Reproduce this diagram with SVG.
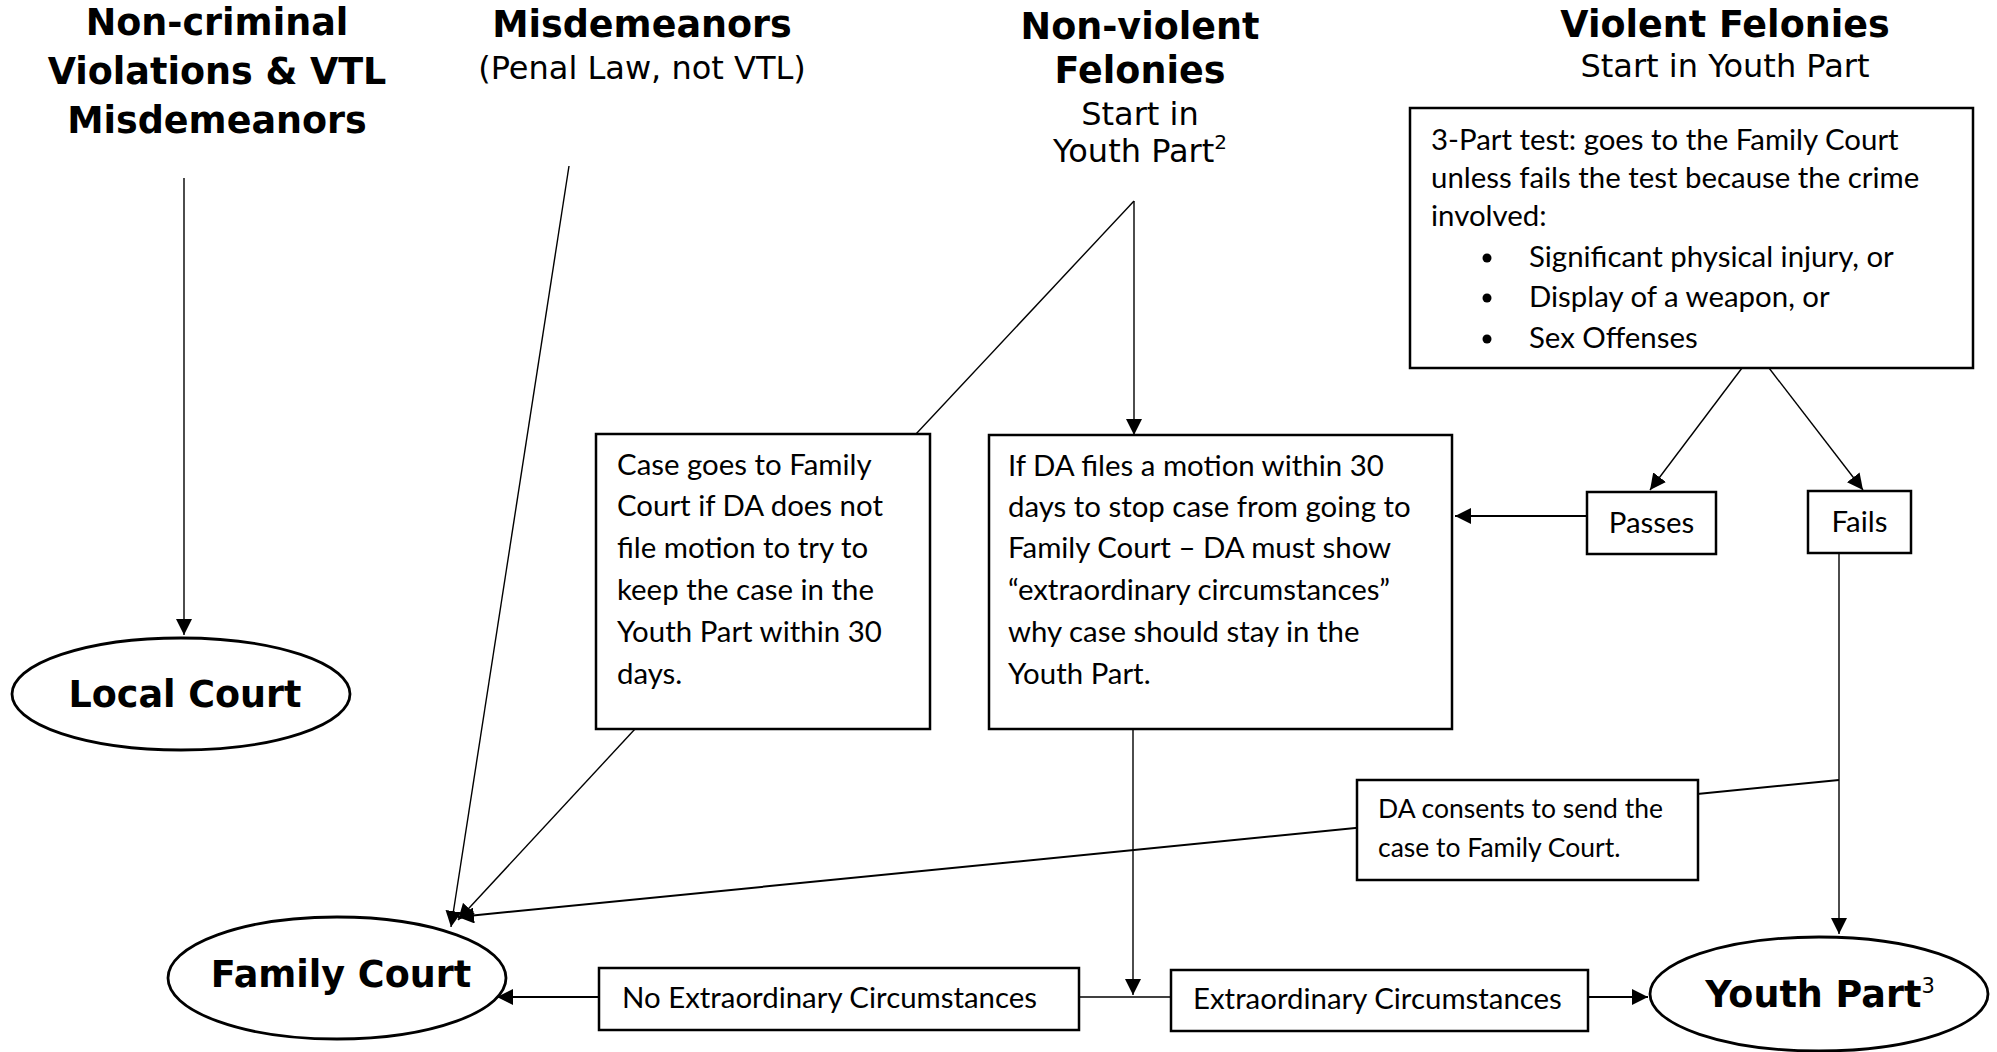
<svg xmlns="http://www.w3.org/2000/svg" width="1997" height="1052" viewBox="0 0 1997 1052">
<defs>
<marker id="ah" markerUnits="userSpaceOnUse" markerWidth="16" markerHeight="16" refX="15" refY="7.5" orient="auto" viewBox="0 0 15 15">
<path d="M0,0 L15,7.5 L0,15 z" fill="#000"/>
</marker>
</defs>
<style>
.t{font-family:"DejaVu Sans",Verdana,sans-serif;font-weight:bold;font-size:36.5px;fill:#000;text-anchor:middle}
.s{font-family:"DejaVu Sans",Verdana,sans-serif;font-size:32px;fill:#000;text-anchor:middle}
.b{font-family:Lato,"Open Sans",sans-serif;font-size:29.4px;fill:#000}
.c{font-family:Lato,"Open Sans",sans-serif;font-size:26.5px;fill:#000}
.box{fill:#fff;stroke:#000;stroke-width:2.5}
.ell{fill:#fff;stroke:#000;stroke-width:2.8}
.ln{fill:none;stroke:#000;stroke-width:1.4}
.la{fill:none;stroke:#000;stroke-width:1.4;marker-end:url(#ah)}
.lb{fill:none;stroke:#000;stroke-width:2;marker-end:url(#ah)}
</style>
<rect width="1997" height="1052" fill="#fff"/>

<g id="connectors">
<line class="la" x1="184" y1="178" x2="184" y2="635"/>
<line class="la" x1="569" y1="166" x2="451" y2="927"/>
<line class="la" x1="1134" y1="201" x2="1134" y2="435"/>
<line class="ln" x1="1134" y1="201" x2="916" y2="434"/>
<line class="la" x1="635" y1="729" x2="458" y2="920"/>
<line class="lb" x1="1839" y1="780" x2="458" y2="917"/>
<line class="lb" x1="1587" y1="516" x2="1455" y2="516"/>
<line class="la" x1="1742" y1="368" x2="1650" y2="490"/>
<line class="la" x1="1769" y1="368" x2="1863" y2="490"/>
<line class="la" x1="1839" y1="553" x2="1839" y2="934"/>
<line class="la" x1="1133" y1="729" x2="1133" y2="995"/>
<line class="ln" x1="1079" y1="997" x2="1171" y2="997"/>
<line class="lb" x1="599" y1="997" x2="497" y2="997"/>
<line class="lb" x1="1588" y1="997" x2="1648" y2="997"/>
</g>

<g id="title-noncriminal">
<text class="t" x="217" y="35">Non-criminal</text>
<text class="t" x="217" y="84">Violations &amp; VTL</text>
<text class="t" x="217" y="133">Misdemeanors</text>
</g>

<g id="title-misdemeanors">
<text class="t" x="642" y="37">Misdemeanors</text>
<text class="s" x="642" y="79">(Penal Law, not VTL)</text>
</g>

<g id="title-nonviolent">
<text class="t" x="1140" y="39">Non-violent</text>
<text class="t" x="1140" y="83">Felonies</text>
<text class="s" x="1140" y="125">Start in</text>
<text class="s" x="1140" y="162">Youth Part<tspan font-size="20" dy="-13">2</tspan></text>
</g>

<g id="title-violent">
<text class="t" x="1725" y="37">Violent Felonies</text>
<text class="s" x="1725" y="77">Start in Youth Part</text>
</g>

<g id="three-part-test">
<rect class="box" x="1410" y="108" width="563" height="260"/>
<text class="b" x="1431" y="150">3-Part test: goes to the Family Court</text>
<text class="b" x="1431" y="188">unless fails the test because the crime</text>
<text class="b" x="1431" y="226">involved:</text>
<circle cx="1487" cy="258" r="4.5"/>
<text class="b" x="1529" y="267">Significant physical injury, or</text>
<circle cx="1487" cy="298" r="4.5"/>
<text class="b" x="1529" y="307">Display of a weapon, or</text>
<circle cx="1487" cy="339" r="4.5"/>
<text class="b" x="1529" y="348">Sex Offenses</text>
</g>

<g id="case-goes">
<rect class="box" x="596" y="434" width="334" height="295"/>
<text class="b" x="617" y="475">Case goes to Family</text>
<text class="b" x="617" y="516">Court if DA does not</text>
<text class="b" x="617" y="558">file motion to try to</text>
<text class="b" x="617" y="600">keep the case in the</text>
<text class="b" x="617" y="642">Youth Part within 30</text>
<text class="b" x="617" y="684">days.</text>
</g>

<g id="da-motion">
<rect class="box" x="989" y="435" width="463" height="294"/>
<text class="b" x="1008" y="476">If DA files a motion within 30</text>
<text class="b" x="1008" y="517">days to stop case from going to</text>
<text class="b" x="1008" y="558">Family Court – DA must show</text>
<text class="b" x="1008" y="600">“extraordinary circumstances”</text>
<text class="b" x="1008" y="642">why case should stay in the</text>
<text class="b" x="1008" y="684">Youth Part.</text>
</g>

<g id="passes">
<rect class="box" x="1587" y="492" width="129" height="62"/>
<text class="b" x="1651.5" y="533" text-anchor="middle">Passes</text>
</g>

<g id="fails">
<rect class="box" x="1808" y="491" width="103" height="62"/>
<text class="b" x="1859.5" y="532" text-anchor="middle">Fails</text>
</g>

<g id="da-consents">
<rect class="box" x="1357" y="780" width="341" height="100"/>
<text class="c" x="1378" y="818">DA consents to send the</text>
<text class="c" x="1378" y="857">case to Family Court.</text>
</g>

<g id="no-extraordinary">
<rect class="box" x="599" y="968" width="480" height="62"/>
<text class="b" x="622" y="1008">No Extraordinary Circumstances</text>
</g>

<g id="extraordinary">
<rect class="box" x="1171" y="970" width="417" height="61"/>
<text class="b" x="1193" y="1009">Extraordinary Circumstances</text>
</g>

<g id="local-court">
<ellipse class="ell" cx="181" cy="694" rx="169" ry="56"/>
<text class="t" x="185" y="707">Local Court</text>
</g>

<g id="family-court">
<ellipse class="ell" cx="337" cy="978" rx="169" ry="61"/>
<text class="t" x="341" y="987">Family Court</text>
</g>

<g id="youth-part">
<ellipse class="ell" cx="1819" cy="994" rx="169" ry="57"/>
<text class="t" x="1820" y="1007">Youth Part<tspan font-weight="normal" font-size="21" dy="-14">3</tspan></text>
</g>
</svg>
